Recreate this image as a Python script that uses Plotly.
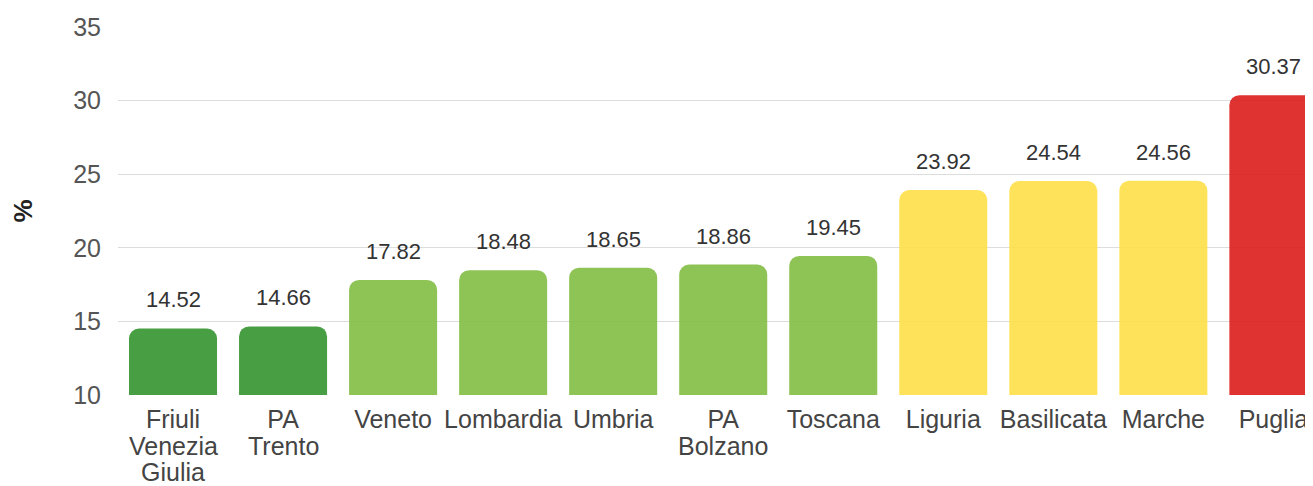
import plotly.graph_objects as go

categories = ["Friuli Venezia Giulia", "PA Trento", "Veneto", "Lombardia", "Umbria",
              "PA Bolzano", "Toscana", "Liguria", "Basilicata", "Marche", "Puglia"]
label_lines = [["Friuli", "Venezia", "Giulia"], ["PA", "Trento"], ["Veneto"], ["Lombardia"],
               ["Umbria"], ["PA", "Bolzano"], ["Toscana"], ["Liguria"], ["Basilicata"],
               ["Marche"], ["Puglia"]]
values = [14.52, 14.66, 17.82, 18.48, 18.65, 18.86, 19.45, 23.92, 24.54, 24.56, 30.37]
colors = ["#34932e", "#34932e", "#82bd42", "#82bd42", "#82bd42", "#82bd42", "#82bd42",
          "#fee048", "#fee048", "#fee048", "#dc1d1c"]
y_ticks = [10, 15, 20, 25, 30, 35]

FONT = "Liberation Sans, Arial"
x_idx = list(range(len(categories)))

fig = go.Figure()
fig.add_trace(go.Bar(
    x=x_idx, y=values, name="%",
    marker=dict(color=colors, opacity=0.9, line=dict(width=0)),
    hoverinfo="skip",
))

# value labels above bars
for i, v in zip(x_idx, values):
    fig.add_annotation(x=i, y=v, xref="x", yref="y", text=f"{v:.2f}",
                       showarrow=False, yanchor="bottom", yshift=14,
                       font=dict(family=FONT, size=22, color="#333333"))

# continuation lines of multi-line category labels (tighter line spacing)
LINE_STEP = 26.5
for i, lines in zip(x_idx, label_lines):
    for k, txt in enumerate(lines[1:], start=1):
        fig.add_annotation(x=i, y=0, xref="x", yref="paper", text=txt,
                           showarrow=False, yanchor="top", yshift=-(8 + LINE_STEP * k),
                           font=dict(family=FONT, size=25, color="#444444"))

# page body has an 8px margin, so the figure is offset by 8px in the window
fig.update_layout(
    width=1305, height=478,
    margin=dict(l=110, r=0, t=19, b=91, autoexpand=False),
    paper_bgcolor="white", plot_bgcolor="white",
    bargap=0.2, barcornerradius=10,
    showlegend=False,
    font=dict(family=FONT, color="#555555"),
    xaxis=dict(
        tickmode="array", tickvals=x_idx, ticktext=[l[0] for l in label_lines],
        range=[-0.5, 10.36], showgrid=False, zeroline=False, showline=False,
        tickfont=dict(size=25, color="#444444"), ticks="outside", ticklen=2,
        tickcolor="rgba(0,0,0,0)", automargin=False,
    ),
    yaxis=dict(
        range=[10, 35], tickvals=y_ticks, showgrid=True, gridcolor="#dddddd",
        gridwidth=1, zeroline=False, showline=False,
        tickfont=dict(size=25, color="#555555"), ticks="outside", ticklen=11,
        tickcolor="rgba(0,0,0,0)", automargin=False,
        title=dict(text="<b>%</b>", font=dict(size=26, color="#222222"), standoff=43),
    ),
)

fig.write_html("out.html")
